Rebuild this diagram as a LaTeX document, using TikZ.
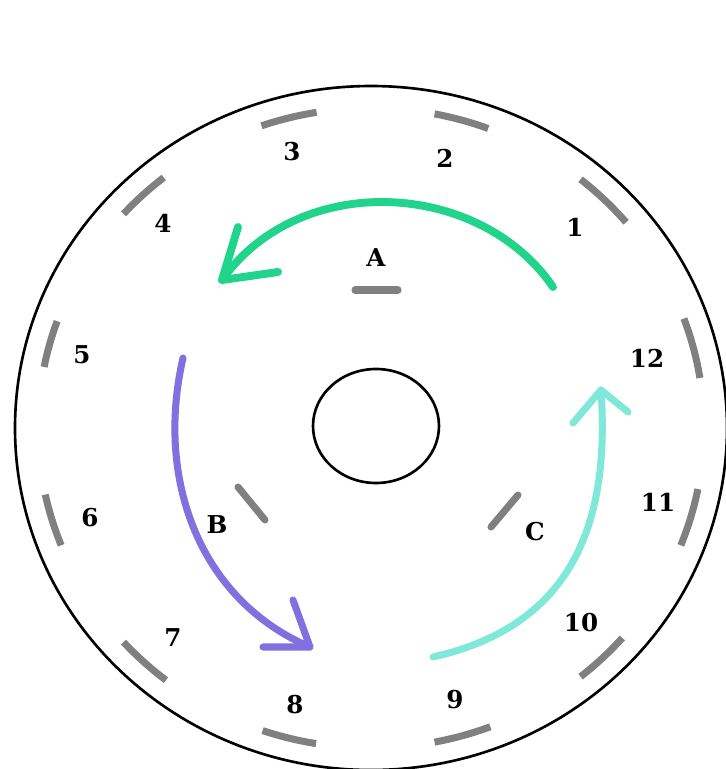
\documentclass[tikz,border=0pt]{standalone}
\usepackage{fontspec}
\setmainfont{DejaVu Serif}
\definecolor{segGray}{RGB}{128,128,128}
\definecolor{arrGreen}{RGB}{32,212,140}
\definecolor{arrPurple}{RGB}{128,112,224}
\definecolor{arrCyan}{RGB}{128,232,216}
\tikzset{
  rim/.style={line width=1.5pt, black},
  outerseg/.style={line width=4pt, segGray, line cap=butt},
  innerseg/.style={line width=4pt, segGray, line cap=round},
  lbl/.style={font=\fontsize{14}{16}\selectfont\bfseries, inner sep=0pt},
  garc/.style={line width=4.5pt, arrGreen, line cap=round, line join=round},
  parc/.style={line width=4pt, arrPurple, line cap=round, line join=round},
  carc/.style={line width=4pt, arrCyan, line cap=round, line join=round}
}
\newcommand{\slotseg}[2]{\draw[outerseg] (c) ++(#1:333 and 320) arc[start angle=#1, end angle=#2, x radius=333, y radius=320];}
\begin{document}
\begin{tikzpicture}[x=0.02cm,y=-0.02cm]
\useasboundingbox (0,0) rectangle (726,769);
\clip (0,0) rectangle (726,769);
\fill[white] (0,0) rectangle (726,769);
\coordinate (c) at (371,428);
\coordinate (ic) at (376,426);
% outer rim and hub
\draw[rim] (c) ellipse [x radius=356, y radius=342];
\draw[rim] (ic) ellipse [x radius=63, y radius=57];
% stator slots
\slotseg{309}{320}
\slotseg{281}{290.6}
\slotseg{250.8}{260.6}
\slotseg{222}{231.5}
\slotseg{191}{199.5}
\slotseg{158.5}{168}
\slotseg{128}{138}
\slotseg{99.5}{109}
\slotseg{69}{79}
\slotseg{41}{51}
\slotseg{11}{21.5}
\slotseg{340}{351}
% inner segments
\coordinate (a1) at (355,290); \coordinate (a2) at (398,290);
\coordinate (b1) at (238,487); \coordinate (b2) at (265,520);
\coordinate (c1) at (518,495); \coordinate (c2) at (491,527);
\draw[innerseg] (a1) -- (a2);
\draw[innerseg] (b1) -- (b2);
\draw[innerseg] (c1) -- (c2);
% labels
\node[lbl] (n1) at (575,227) {1};
\node[lbl] (n2) at (445,158) {2};
\node[lbl] (n3) at (292,152) {3};
\node[lbl] (n4) at (163,223) {4};
\node[lbl] (n5) at (82,355) {5};
\node[lbl] (n6) at (90,518) {6};
\node[lbl] (n7) at (173,638) {7};
\node[lbl] (n8) at (295,705) {8};
\node[lbl] (n9) at (455,700) {9};
\node[lbl] (n10) at (581,623) {10};
\node[lbl] (n11) at (658,502) {11};
\node[lbl] (n12) at (647,358) {12};
\node[lbl] (lA) at (376,258) {A};
\node[lbl] (lB) at (217,525) {B};
\node[lbl] (lC) at (535,532) {C};
% green arrow
\coordinate (gt) at (553,287); \coordinate (gh) at (222,280);
\coordinate (ga1) at (238,227); \coordinate (ga2) at (278,272);
\draw[garc] (gt) .. controls (480,180) and (300,170) .. (gh);
\draw[garc] (ga1) -- (gh) -- (ga2);
% purple arrow
\coordinate (pt) at (183,358); \coordinate (ph) at (310,647);
\coordinate (pa1) at (293,600); \coordinate (pa2) at (263,647);
\draw[parc] (pt) .. controls (155,480) and (200,600) .. (ph);
\draw[parc] (pa1) -- (ph) -- (pa2);
% cyan arrow
\coordinate (ct) at (433,657); \coordinate (ch) at (601,390);
\coordinate (ca1) at (573,423); \coordinate (ca2) at (628,412);
\draw[carc] (ct) .. controls (575,625) and (610,520) .. (ch);
\draw[carc] (ca1) -- (ch) -- (ca2);
\end{tikzpicture}
\end{document}
